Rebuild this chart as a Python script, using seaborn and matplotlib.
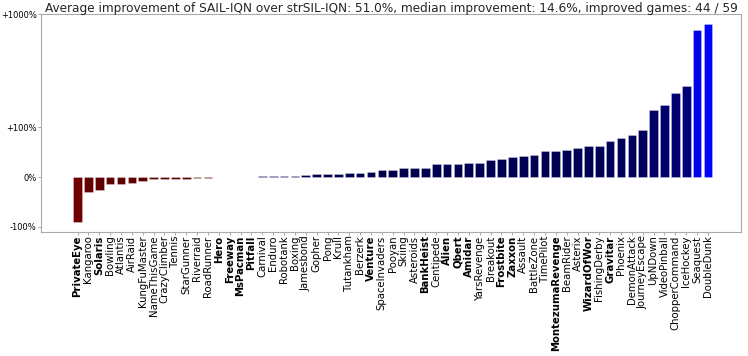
import matplotlib
matplotlib.use("Agg")
import matplotlib.pyplot as plt
import seaborn as sns
import numpy as np

# games sorted by improvement (%)
games = ["PrivateEye", "Kangaroo", "Solaris", "Bowling", "Atlantis", "AirRaid",
         "KungFuMaster", "NameThisGame", "CrazyClimber", "Tennis", "StarGunner",
         "Riverraid", "RoadRunner", "Hero", "Freeway", "MsPacman", "Pitfall",
         "Carnival", "Enduro", "Robotank", "Boxing", "Jamesbond", "Gopher", "Pong",
         "Krull", "Tutankham", "Berzerk", "Venture", "SpaceInvaders", "Pooyan",
         "Skiing", "Asteroids", "BankHeist", "Centipede", "Alien", "Qbert", "Amidar",
         "YarsRevenge", "Breakout", "Frostbite", "Zaxxon", "Assault", "BattleZone",
         "TimePilot", "MontezumaRevenge", "BeamRider", "Asterix", "WizardOfWor",
         "FishingDerby", "Gravitar", "Phoenix", "DemonAttack", "JourneyEscape",
         "UpNDown", "VideoPinball", "ChopperCommand", "IceHockey", "Seaquest",
         "DoubleDunk"]

improvement = [-90, -30, -25, -14, -13, -11,
               -7, -4.5, -3, -3, -2.8,
               -2, -0.8, 0, 0, 0.5, 1.0,
               1.5, 2.0, 2.2, 2.5, 4, 6, 6.5,
               7, 7.4, 8.7, 9.4, 14.7, 14.6,
               18.8, 18.8, 18.8, 25.5, 25.5, 25.8, 27.5,
               27.5, 33.5, 36, 39.6, 41.6, 43.6,
               51.7, 53, 53.7, 59, 61.7,
               63, 71.8, 79, 83.8, 95,
               141, 156, 202, 230, 727,
               811]

bold_games = ["PrivateEye", "Solaris", "Hero", "Freeway", "MsPacman", "Pitfall",
              "Venture", "BankHeist", "Alien", "Qbert", "Amidar", "Frostbite",
              "Zaxxon", "MontezumaRevenge", "WizardOfWor", "Gravitar"]

ytick_vals = [-100, 0, 100, 1000]
ytick_labels = ["-100%", "0%", "+100%", "+1000%"]

title = ("Average improvement of SAIL-IQN over strSIL-IQN: 51.0%, "
         "median improvement: 14.6%, improved games: 44 / 59")

# colours: dark red for losses, navy -> blue for gains
vals = np.array(improvement, dtype=float)
vmax = vals.max()
colors = []
for v in vals:
    if v < 0:
        colors.append((0.36 + 0.08 * min(-v / 90, 1), 0.0, 0.0))
    else:
        colors.append((0.0, 0.0, 0.3 + 0.7 * (v / vmax) ** 1.1))

sns.set_style("white")
plt.rcParams["font.family"] = ["DejaVu Sans"]

fig = plt.figure(figsize=(7.48, 3.56), dpi=100)
ax = fig.add_axes([41 / 748, 1 - 232 / 356, 700 / 748, 218 / 356])

sns.barplot(x=games, y=improvement, hue=games, palette=colors, legend=False,
            saturation=1, width=0.8, edgecolor=(1, 1, 1, 0.5), linewidth=0.4,
            ax=ax)

ax.set_yscale("symlog", linthresh=100, linscale=0.395)
ax.set_ylim(-111, 1000)
ax.set_xlim(-3.36, 61.04)
ax.set_yticks(ytick_vals)
ax.set_yticklabels(ytick_labels, fontsize=6)
ax.yaxis.set_minor_locator(matplotlib.ticker.NullLocator())

ax.set_xticks(range(len(games)))
ax.set_xticklabels(games, rotation=90, fontsize=7.3)
for lab in ax.get_xticklabels():
    if lab.get_text() in bold_games:
        lab.set_fontweight("bold")

ax.tick_params(axis="both", length=2, width=0.6, color="#999999", pad=1,
               labelcolor="black")
ax.tick_params(axis="x", bottom=True, pad=0.5)
ax.tick_params(axis="y", left=True)
for s in ax.spines.values():
    s.set_color("#aaaaaa")
    s.set_linewidth(0.8)

ax.set_xlabel("")
ax.set_title(title, fontsize=8.75, pad=1.5)

fig.savefig("out.png", dpi=100)
